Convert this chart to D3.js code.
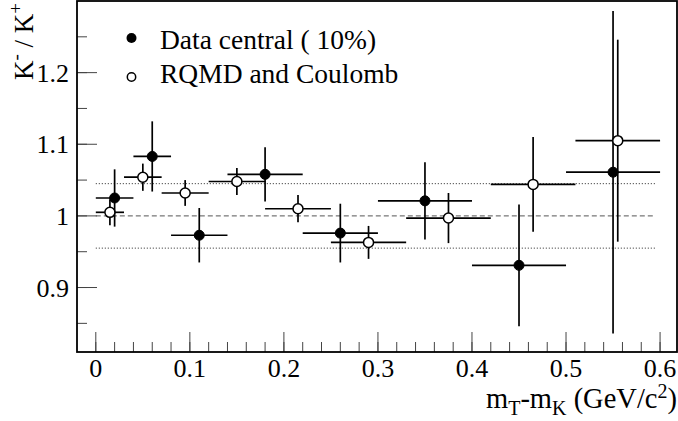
<!DOCTYPE html>
<html>
<head>
<meta charset="utf-8">
<script src="https://cdn.jsdelivr.net/npm/d3@7"></script>
<style>
  body { margin: 0; background: #fff; }
  text { font-family: "Liberation Serif", "Times New Roman", serif; fill: #000; }
</style>
</head>
<body>
<div id="chart"></div>
<script>
// K-/K+ ratio vs mT - mK, data vs RQMD

// Data central (filled circles)
const dataX   = [0.02, 0.06, 0.11, 0.18, 0.26, 0.35, 0.45, 0.55];
const dataXlo = [0.00, 0.04, 0.08, 0.14, 0.22, 0.30, 0.40, 0.50];
const dataXhi = [0.04, 0.08, 0.14, 0.22, 0.30, 0.40, 0.50, 0.60];
const dataY   = [1.025, 1.083, 0.973, 1.058, 0.976, 1.021, 0.931, 1.061];
const dataEy  = [0.040, 0.049, 0.038, 0.038, 0.041, 0.054, 0.085, 0.225];

// RQMD and Coulomb (open circles)
const rqmdX   = [0.015, 0.05, 0.095, 0.15, 0.215, 0.29, 0.375, 0.465, 0.555];
const rqmdXlo = [0.00, 0.03, 0.07, 0.12, 0.18, 0.25, 0.33, 0.42, 0.51];
const rqmdXhi = [0.03, 0.07, 0.12, 0.18, 0.25, 0.33, 0.42, 0.51, 0.60];
const rqmdY   = [1.005, 1.054, 1.032, 1.048, 1.010, 0.963, 0.997, 1.044, 1.105];
const rqmdEy  = [0.018, 0.019, 0.018, 0.019, 0.019, 0.023, 0.035, 0.066, 0.141];

// reference lines
const refLevels = [1.0, 1.045, 0.955];
const refStyles = ["dashed", "dotted", "dotted"];

const xTicks = [0, 0.1, 0.2, 0.3, 0.4, 0.5, 0.6];
const yTicks = [0.9, 1, 1.1, 1.2];
const legendLabels = ["Data central ( 10%)", "RQMD and Coulomb"];

const width = 678, height = 421;
const frame = { left: 77, right: 677, top: 1, bottom: 352 };

const svg = d3.select("#chart").append("svg")
  .attr("width", width)
  .attr("height", height);

const x = d3.scaleLinear().domain([-0.02, 0.618]).range([frame.left, frame.right]);
const y = d3.scaleLinear().domain([0.81, 1.30]).range([frame.bottom, frame.top]);

// ticks (drawn inward, ROOT style)
const g = svg.append("g");
const xMinor = d3.range(0, 0.62, 0.02);
g.selectAll(".xminor").data(xMinor).join("line")
  .attr("x1", d => x(d)).attr("x2", d => x(d))
  .attr("y1", frame.bottom).attr("y2", frame.bottom - 10)
  .attr("stroke", "#444").attr("stroke-width", 1);
g.selectAll(".xmajor").data(xTicks).join("line")
  .attr("x1", d => x(d)).attr("x2", d => x(d))
  .attr("y1", frame.bottom).attr("y2", frame.bottom - 20)
  .attr("stroke", "#444").attr("stroke-width", 1);

const yMinor = d3.range(0.85, 1.30, 0.05);
g.selectAll(".yminor").data(yMinor).join("line")
  .attr("x1", frame.left).attr("x2", frame.left + 10)
  .attr("y1", d => y(d)).attr("y2", d => y(d))
  .attr("stroke", "#444").attr("stroke-width", 1);
g.selectAll(".ymajor").data(yTicks).join("line")
  .attr("x1", frame.left).attr("x2", frame.left + 20)
  .attr("y1", d => y(d)).attr("y2", d => y(d))
  .attr("stroke", "#444").attr("stroke-width", 1);

// tick labels
g.selectAll(".xlab").data(xTicks).join("text")
  .attr("x", d => x(d)).attr("y", 377)
  .attr("text-anchor", "middle")
  .style("font-size", "26px")
  .text(d => d3.format("~g")(d));

g.selectAll(".ylab").data(yTicks).join("text")
  .attr("x", 69).attr("y", d => y(d) + 9)
  .attr("text-anchor", "end")
  .style("font-size", "26px")
  .text(d => d3.format("~g")(d));

// reference lines
g.selectAll(".ref").data(refLevels).join("line")
  .attr("x1", x(0)).attr("x2", x(0.595))
  .attr("y1", d => y(d)).attr("y2", d => y(d))
  .attr("stroke", (d, i) => refStyles[i] === "dashed" ? "#555" : "#222")
  .attr("stroke-width", 1)
  .attr("stroke-dasharray", (d, i) => refStyles[i] === "dashed" ? "5,3" : "1,2");

// error bars + markers
function series(xs, xlo, xhi, ys, ey, open) {
  const pts = xs.map((v, i) => ({ x: v, xlo: xlo[i], xhi: xhi[i], y: ys[i], ey: ey[i] }));
  const sg = svg.append("g");
  sg.selectAll(".hbar").data(pts).join("line")
    .attr("x1", d => x(d.xlo)).attr("x2", d => x(d.xhi))
    .attr("y1", d => y(d.y)).attr("y2", d => y(d.y))
    .attr("stroke", "#000").attr("stroke-width", 1.7);
  sg.selectAll(".vbar").data(pts).join("line")
    .attr("x1", d => x(d.x)).attr("x2", d => x(d.x))
    .attr("y1", d => y(d.y - d.ey)).attr("y2", d => y(d.y + d.ey))
    .attr("stroke", "#000").attr("stroke-width", 1.7);
  sg.selectAll(".mk").data(pts).join("circle")
    .attr("cx", d => x(d.x)).attr("cy", d => y(d.y))
    .attr("r", 5)
    .attr("fill", open ? "#fff" : "#000")
    .attr("stroke", "#000").attr("stroke-width", open ? 1.5 : 1);
}
series(dataX, dataXlo, dataXhi, dataY, dataEy, false);
series(rqmdX, rqmdXlo, rqmdXhi, rqmdY, rqmdEy, true);

// frame
svg.append("rect")
  .attr("x", frame.left).attr("y", frame.top)
  .attr("width", frame.right - frame.left).attr("height", frame.bottom - frame.top)
  .attr("fill", "none").attr("stroke", "#000").attr("stroke-width", 1.8);

// legend
const leg = svg.append("g");
leg.append("circle").attr("cx", 131.5).attr("cy", 38).attr("r", 5).attr("fill", "#000");
leg.append("circle").attr("cx", 131.5).attr("cy", 77).attr("r", 4.2)
  .attr("fill", "#fff").attr("stroke", "#000").attr("stroke-width", 1.5);
leg.append("text").attr("x", 160).attr("y", 48.5).style("font-size", "27.5px").text(legendLabels[0]);
leg.append("text").attr("x", 160).attr("y", 83).style("font-size", "27.5px").text(legendLabels[1]);

// y title
const yt = svg.append("text")
  .attr("transform", "translate(33,80) rotate(-90)")
  .attr("text-anchor", "start")
  .style("font-size", "27px");
yt.append("tspan").text("K");
yt.append("tspan").attr("dy", -11).style("font-size", "19px").text("-");
yt.append("tspan").attr("dy", 11).text(" / K");
yt.append("tspan").attr("dy", -11).style("font-size", "19px").text("+");

// x title
const xt = svg.append("text")
  .attr("x", 677).attr("y", 408)
  .attr("text-anchor", "end")
  .style("font-size", "28.5px");
xt.append("tspan").text("m");
xt.append("tspan").attr("dy", 7).style("font-size", "20px").text("T");
xt.append("tspan").attr("dy", -7).text("-m");
xt.append("tspan").attr("dy", 7).style("font-size", "20px").text("K");
xt.append("tspan").attr("dy", -7).text(" (GeV/c");
xt.append("tspan").attr("dy", -10).style("font-size", "20px").text("2");
xt.append("tspan").attr("dy", 10).text(")");
</script>
</body>
</html>
